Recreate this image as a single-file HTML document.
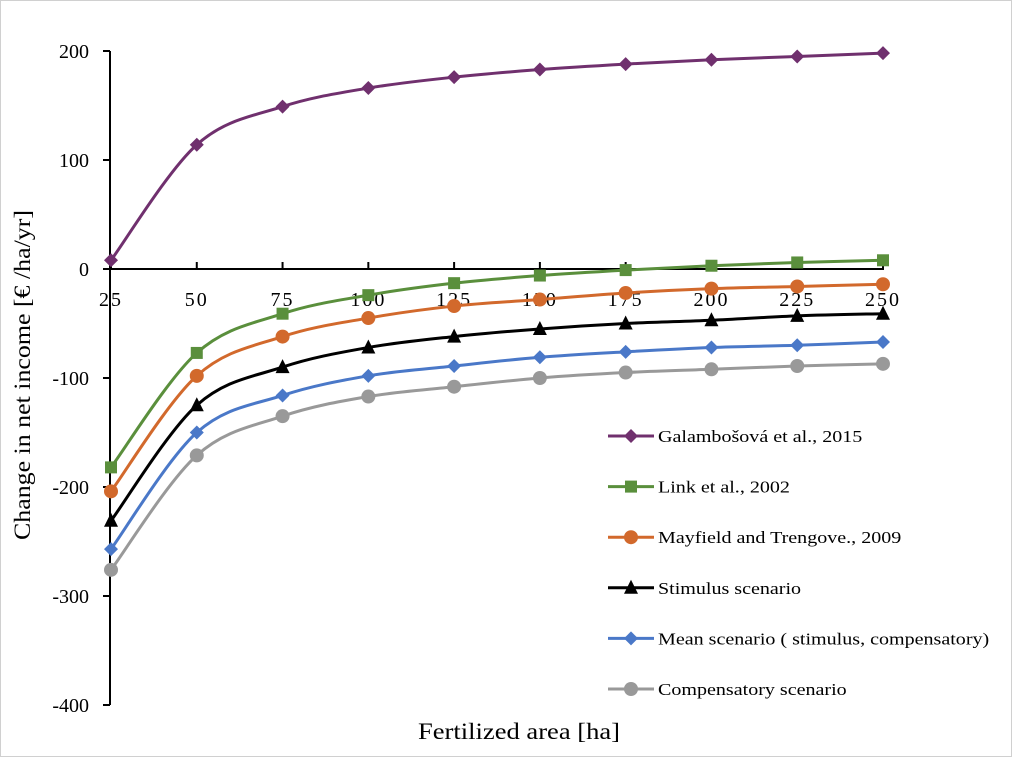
<!DOCTYPE html>
<html><head><meta charset="utf-8"><style>
body{margin:0;background:#fff}
svg{display:block}
text{font-family:"Liberation Serif",serif;fill:#000}
</style></head><body>
<svg id="chart" width="1012" height="757">
<rect x="0.5" y="0.5" width="1011" height="756" fill="#fff" stroke="#d0d0d0"/>
<g id="axes"></g>
<g id="series"></g>
<g id="legend"></g>
<text x="418" y="739" font-size="23" textLength="202" lengthAdjust="spacingAndGlyphs">Fertilized area [ha]</text>
<text transform="translate(30,540) rotate(-90)" font-size="23" textLength="330" lengthAdjust="spacingAndGlyphs">Change in net income [€ /ha/yr]</text>
</svg>
<script>
const categories=[25,50,75,100,125,150,175,200,225,250];
const yTicks=[200,100,0,-100,-200,-300,-400];
const seriesNames=["Galambošová et al., 2015","Link et al., 2002","Mayfield and Trengove., 2009","Stimulus scenario","Mean scenario ( stimulus, compensatory)","Compensatory scenario"];
const galambosova=[8,114,149,166,176,183,188,192,195,198];
const link=[-182,-77,-41,-24,-13,-6,-1,3,6,8];
const mayfield=[-204,-98,-62,-45,-34,-28,-22,-18,-16,-14];
const stimulus=[-231,-125,-90,-72,-62,-55,-50,-47,-43,-41];
const meanScen=[-257,-150,-116,-98,-89,-81,-76,-72,-70,-67];
const compensatory=[-276,-171,-135,-117,-108,-100,-95,-92,-89,-87];

const NS="http://www.w3.org/2000/svg";
const xs=v=>111+(v-25)*(883-111)/225;
const ys=v=>269-v*1.09;
function mk(tag,attrs,parent){const e=document.createElementNS(NS,tag);for(const k in attrs)e.setAttribute(k,attrs[k]);parent.appendChild(e);return e;}
const axes=document.getElementById('axes');
let yAxis=mk('line',{x1:110,y1:ys(200),x2:110,y2:ys(-400),stroke:'#000','stroke-width':2},axes);


let xAxis=mk('line',{x1:110,y1:ys(0),x2:884,y2:ys(0),stroke:'#000','stroke-width':2},axes);


yTicks.forEach(t=>{
  let l=mk('line',{x1:103,y1:ys(t),x2:110,y2:ys(t),stroke:'#000','stroke-width':2},axes);
  
  
  let tx=mk('text',{x:89,y:ys(t)+7,'font-size':20,'text-anchor':'end'},axes);
  tx.textContent=t;
  
  
});
categories.forEach(c=>{
  let l=mk('line',{x1:xs(c),y1:ys(0),x2:xs(c),y2:ys(0)-7,stroke:'#000','stroke-width':2},axes);
  
  
  let tx=mk('text',{x:xs(c),y:306,'font-size':20,'text-anchor':'middle','letter-spacing':'2'},axes);
  tx.textContent=c;
  
  
});
const allSeries=[galambosova,link,mayfield,stimulus,meanScen,compensatory];
const colors=['#70306e','#5a8f3c','#d2692c','#000000','#4a78c8','#999999'];
const shapes=['diamond','square','circle','triangle','diamond','circle'];
function marker(g,shape,x,y,c){
  let e;
  if(shape==='diamond')e=mk('polygon',{points:`${x},${y-7} ${x+7},${y} ${x},${y+7} ${x-7},${y}`,fill:c},g);
  else if(shape==='square')e=mk('rect',{x:x-6,y:y-6,width:12,height:12,fill:c},g);
  else if(shape==='circle')e=mk('circle',{cx:x,cy:y,r:7,fill:c},g);
  else e=mk('polygon',{points:`${x},${y-8} ${x+7},${y+6} ${x-7},${y+6}`,fill:c},g);
  return e;
}
function smooth(pts){
  let d=`M${pts[0][0]},${pts[0][1]}`;
  for(let i=0;i<pts.length-1;i++){
    const p0=pts[Math.max(i-1,0)],p1=pts[i],p2=pts[i+1],p3=pts[Math.min(i+2,pts.length-1)];
    const t=6;
    d+=` C${p1[0]+(p2[0]-p0[0])/t},${p1[1]+(p2[1]-p0[1])/t} ${p2[0]-(p3[0]-p1[0])/t},${p2[1]-(p3[1]-p1[1])/t} ${p2[0]},${p2[1]}`;
  }
  return d;
}
const sg=document.getElementById('series');
allSeries.forEach((s,i)=>{
  const g=mk('g',{},sg);
  
  
  const pts=s.map((v,j)=>[xs(categories[j]),ys(v)]);
  let p=mk('path',{d:smooth(pts),fill:'none',stroke:colors[i],'stroke-width':3},g);
  
  
  pts.forEach(pt=>{
    let m=marker(g,shapes[i],pt[0],pt[1],colors[i]);
    
    
  });
});
const lg=document.getElementById('legend');
seriesNames.forEach((n,i)=>{
  const y=436+i*50.6;
  const g=mk('g',{},lg);
  
  
  mk('line',{x1:608,y1:y,x2:654,y2:y,stroke:colors[i],'stroke-width':3},g);
  marker(g,shapes[i],631,y,colors[i]);
  let t=mk('text',{transform:`translate(658,${y+6}) scale(1.18,1)`,'font-size':17},g);
  t.textContent=n;
});
</script>
</body></html>
